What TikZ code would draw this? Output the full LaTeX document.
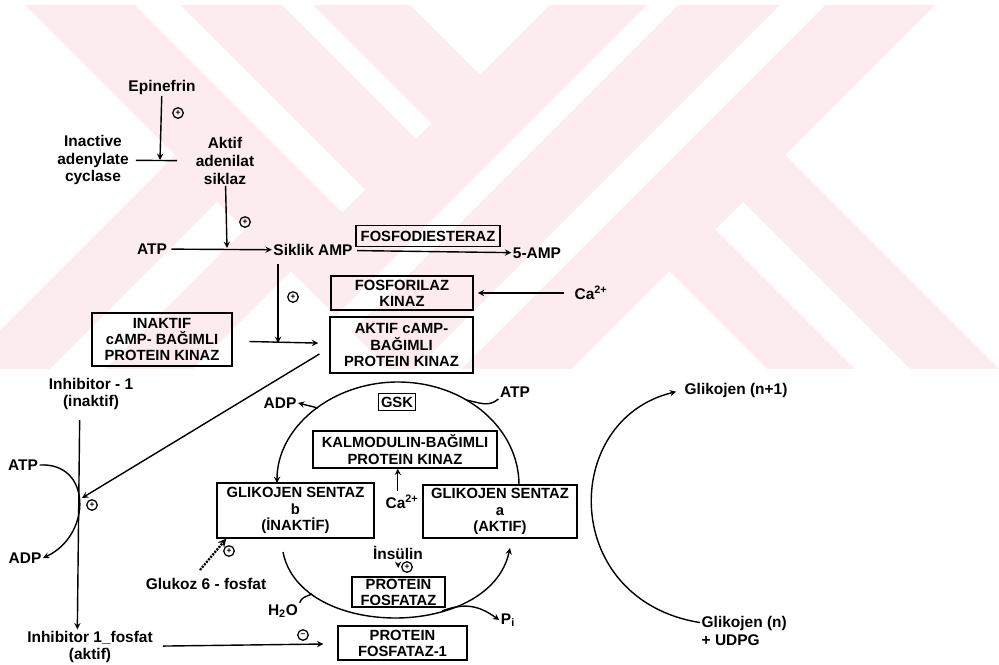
\documentclass[tikz,border=0pt]{standalone}
\usepackage{fontspec}
\setsansfont{Liberation Sans}
\usepackage{tikz}
\usetikzlibrary{positioning}
\definecolor{wmark}{RGB}{253,236,239}
\newcommand{\Cai}{Ca\textsuperscript{2+}}
\tikzset{
  lbl/.style={align=center, inner sep=1pt},
  enzbox/.style={draw, line width=1pt, align=center, inner sep=1pt,
    font=\sffamily\bfseries\fontsize{10.5}{11.5}\selectfont},
  actsign/.style={circle, draw, line width=0.9pt, inner sep=0pt, minimum size=7.5pt,
    font=\sffamily\bfseries\fontsize{6}{6}\selectfont},
  flow/.style={->, line width=1pt},
  link/.style={line width=1pt},
}

\begin{document}
\begin{tikzpicture}[x=0.025cm, y=-0.025cm, >=stealth,
  font=\sffamily\bfseries\fontsize{11}{12.5}\selectfont]
\useasboundingbox (0,0) rectangle (999,664);

% Watermark
\begin{scope}
    \clip (0,5) rectangle (999,368);
    % lower arms
    \fill[wmark] (175,155) -- (291,271) -- (-309,871) -- (-425,755) -- cycle;
    \fill[white] (217,202) -- (244.5,229.5) -- (-355.5,829.5) -- (-383,802) -- cycle;
    \fill[wmark] (785,155) -- (669,271) -- (1269,871) -- (1385,755) -- cycle;
    \fill[white] (743,202) -- (715.5,229.5) -- (1315.5,829.5) -- (1343,802) -- cycle;
    % upper arms
    \fill[wmark] (-280,-300) -- (105,-300) -- (672.5,267.5) -- (480,460) -- cycle;
    \fill[white] (-23,-300) -- (8,-300) -- (431.5,123.5) -- (416,139) -- cycle;
    \fill[white] (-170,-300) -- (-125,-300) -- (365,190) -- (342.5,212.5) -- cycle;
    \fill[wmark] (855,-300) -- (1240,-300) -- (480,460) -- (287.5,267.5) -- cycle;
    \fill[white] (952,-300) -- (983,-300) -- (351.5,331.5) -- (336,316) -- cycle;
    \fill[white] (1085,-300) -- (1130,-300) -- (425,405) -- (402.5,382.5) -- cycle;
\end{scope}

% cAMP cascade
\node[lbl] (epi) at (162,87) {Epinefrin};
\node[lbl] (inact) at (93,160) {Inactive\\adenylate\\cyclase};
\node[lbl] (aktAC) at (225,161) {Aktif\\adenilat\\siklaz};
\node[lbl] (atp1) at (152,249) {ATP};
\node[lbl] (camp) at (313,250) {Siklik AMP};
\node[enzbox, minimum width=144*0.71pt, minimum height=21*0.71pt] (fosfo) at (428,236) {FOSFODIESTERAZ};
\node[lbl] (amp5) at (537,253) {5-AMP};
\node[enzbox, minimum width=142*0.71pt, minimum height=34*0.71pt] (fkin) at (402,293) {FOSFORILAZ\\KINAZ};
\node[lbl] (ca1) at (591,293) {\Cai};
\node[enzbox, minimum width=143*0.71pt, minimum height=56*0.71pt] (akpk) at (401.5,345) {AKTIF cAMP-\\BAĞIMLI\\PROTEIN KINAZ};
\node[enzbox, minimum width=140*0.71pt, minimum height=53*0.71pt] (inpk) at (162,339.5) {INAKTIF\\cAMP- BAĞIMLI\\PROTEIN KINAZ};

\coordinate (j1) at (160,160);
\coordinate (j2) at (227,248);
\coordinate (j3) at (278,343);
\draw[flow] (epi) -- (j1);
\draw[link, shorten <=4, shorten >=12] (inact) -- (aktAC);
\draw[flow] (aktAC) -- (j2);
\draw[flow, shorten <=2] (atp1) -- (camp);
\draw[flow, shorten <=2] (camp) -- (amp5);
\draw[flow, shorten <=5] (camp.south -| j3) -- (j3);
\draw[flow, shorten <=12, shorten >=8] (inpk) -- (akpk);
\draw[flow, shorten <=6, shorten >=3] (ca1) -- (fkin);
\node[actsign] (s1) at (178,113) {+};
\node[actsign] (s2) at (245,222) {+};
\node[actsign] (s3) at (293,297) {+};

% Inhibitor-1
\node[lbl] (inh1) at (91,394) {Inhibitor - 1\\(inaktif)};
\node[lbl] (inh1p) at (90,647) {Inhibitor 1\_fosfat\\(aktif)};
\node[lbl] (atp2) at (23,465) {ATP};
\node[lbl] (adp2) at (25,558) {ADP};
\node[enzbox, minimum width=129*0.71pt, minimum height=34*0.71pt] (pf1) at (402.5,643) {PROTEIN\\FOSFATAZ-1};
\coordinate (j4) at (82,498);
\draw[flow, shorten <=6] ([xshift=-8pt]inh1.south) -- ([xshift=-9pt]inh1p.north);
\draw[flow] (atp2.east) .. controls (92,462) and (92,535) .. (adp2.east);
\draw[flow] ([shift={(-10,9)}]akpk.west) -- (j4);
\draw[flow, shorten <=6, shorten >=10] (inh1p) -- (pf1);
\node[actsign] (s4) at (92,505) {+};
\node[actsign] (m1) at (303,635) {--};

% Glycogen synthase cycle
\node[enzbox, minimum width=37*0.71pt, minimum height=17*0.71pt] (gsk) at (397,402) {GSK};
\node[enzbox, minimum width=184*0.71pt, minimum height=37*0.71pt] (kalm) at (405,449.5) {KALMODULIN-BAĞIMLI\\PROTEIN KINAZ};
\node[enzbox, minimum width=157*0.71pt, minimum height=55*0.71pt] (gsb) at (295.5,510.5) {GLIKOJEN SENTAZ\\b\\(İNAKTİF)};
\node[enzbox, minimum width=154*0.71pt, minimum height=53*0.71pt] (gsa) at (500,511.5) {GLIKOJEN SENTAZ\\a\\(AKTIF)};
\node[lbl] (ca2) at (402,502) {\Cai};
\node[lbl] (adp1) at (280,403) {ADP};
\node[lbl] (atp3) at (515,392) {ATP};
\node[lbl] (insl) at (398,553) {İnsülin};
\node[enzbox, minimum width=93*0.71pt, minimum height=30*0.71pt] (pfz) at (398.5,592) {PROTEIN\\FOSFATAZ};
\node[lbl] (h2o) at (283,611) {H\textsubscript{2}O};
\node[lbl] (pi) at (508,620) {P\textsubscript{i}};
\node[lbl] (glu6p) at (206,584) {Glukoz 6 - fosfat};

\coordinate (gsR) at (519,485);
\coordinate (gsTop) at (398,382);
\coordinate (gsL) at (277,483);
\coordinate (adpj) at (318,408);
\coordinate (atpj) at (466,400);
\coordinate (lowL) at (283,552);
\coordinate (lowR) at (510,548);
\coordinate (h2oj) at (312,594);
\coordinate (pij) at (442,611);
\coordinate (g6s) at (200,570);

\draw[flow] (gsR) .. controls (519,428) and (465,382) .. (gsTop)
    .. controls (331,382) and (277,428) .. (gsL);
\draw[flow] (adpj) -- (adp1.east);
\draw[link] (atp3.south west) .. controls (488,408) and (478,402) .. (atpj);
\draw[flow] (lowL) .. controls (300,640) and (490,640) .. (lowR);
\draw[link] (h2o.north east) .. controls (302,598) .. (h2oj);
\draw[flow] (pij) .. controls (468,601) and (482,608) .. (pi.west);
\draw[flow, shorten <=3, shorten >=6] (insl) -- (pfz);
\draw[flow, shorten <=2] ([xshift=-3pt]ca2.north) -- ([xshift=-3pt]ca2.north |- kalm.south);
\draw[flow, line width=1.6pt, dash pattern=on 1.5pt off 0.8pt] (g6s) -- ([xshift=7pt]gsb.south west);
\node[actsign] (s5) at (229,551) {+};
\node[actsign] (s6) at (407,567) {+};

% Glycogen chain
\node[lbl, anchor=west] (glyn1) at (683,390) {Glikojen (n+1)};
\node[lbl, anchor=west, align=left] (glyn) at (700,631) {Glikojen (n)\\+ UDPG};
\draw[flow, shorten >=5] ([yshift=6pt]glyn.west) .. controls (560,600) and (560,420) .. (glyn1.west);
\end{tikzpicture}
\end{document}
